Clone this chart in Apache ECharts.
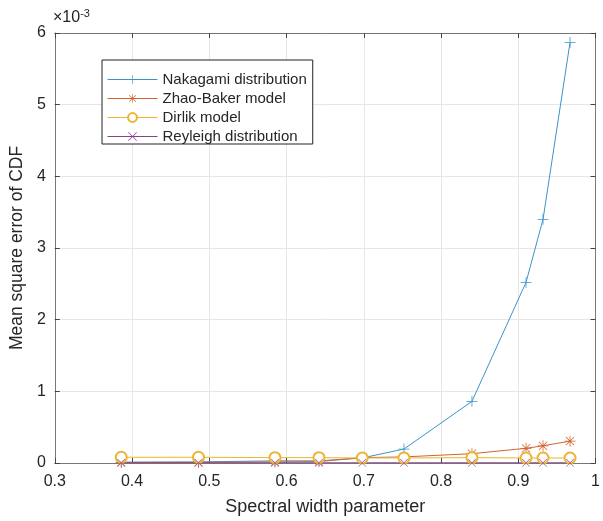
<!DOCTYPE html>
<html><head><meta charset="utf-8">
<script src="https://cdn.jsdelivr.net/npm/echarts@6/dist/echarts.min.js"></script>
<style>html,body{margin:0;padding:0;background:#fff}#c{width:603px;height:521px}</style>
</head><body><div id="c"></div>
<script>
// x values: spectral width parameter
const spectralWidth = [0.386, 0.486, 0.585, 0.642, 0.698, 0.752, 0.840, 0.910, 0.932, 0.967];
// y values in units of 1e-3
const nakagami  = [0.010, 0.015, 0.030, 0.030, 0.070, 0.195, 0.860, 2.520, 3.400, 5.870];
const zhaoBaker = [0.010, 0.010, 0.015, 0.020, 0.075, 0.085, 0.130, 0.205, 0.240, 0.305];
const dirlik    = [0.080, 0.080, 0.075, 0.075, 0.070, 0.070, 0.075, 0.070, 0.070, 0.070];
const reyleigh  = [0.003, 0.003, 0.003, 0.003, 0.003, 0.003, 0.003, 0.003, 0.003, 0.003];
const seriesNames = ['Nakagami distribution', 'Zhao-Baker model', 'Dirlik model', 'Reyleigh distribution'];
const xTickLabels = ['0.3','0.4','0.5','0.6','0.7','0.8','0.9','1'];
const yTickLabels = ['0','1','2','3','4','5','6'];

const PLUS = 'path://M9.3,0h1.4v20h-1.4z M0,9.3h20v1.4h-20z';
const CROSS = 'path://M0,1L1,0L20,19L19,20Z M19,0L20,1L1,20L0,19Z';
const STAR = 'path://M9.3,0h1.4v20h-1.4z M0,9.3h20v1.4h-20z M2,3L3,2L18,17L17,18Z M17,2L18,3L3,18L2,17Z';

function pairs(ys){ return spectralWidth.map((x,i)=>[x, ys[i]]); }
const txt = '#262626';
const axisCol = '#777';
const font = 'Liberation Sans, Arial, sans-serif';

const chart = echarts.init(document.getElementById('c'), null, {renderer:'canvas'});
function mk(name, ys, color, symbol, size){
  return {
    name, type:'line', data: pairs(ys), symbol, symbolSize:size,
    lineStyle:{color, width:1}, itemStyle:{color, borderWidth:1},
    showAllSymbol:true, animation:false, z:3
  };
}
chart.setOption({
  animation:false,
  backgroundColor:'#fff',
  textStyle:{fontFamily:font, color:txt},
  grid:{left:53, right:3, top:33, bottom:58, containLabel:false},
  legend:{
    orient:'vertical', left:102, top:60, data:seriesNames,
    backgroundColor:'#fff', borderColor:'#222', borderWidth:1, borderRadius:0,
    padding:[12,6,0,5], itemGap:4, itemWidth:50, itemHeight:11,
    lineStyle:{width:1}, itemStyle:{borderWidth:1},
    textStyle:{fontSize:15, color:txt, fontFamily:font}
  },
  xAxis:[{
    type:'value', min:0.3, max:1, interval:0.1,
    name:'Spectral width parameter', nameLocation:'middle', nameGap:35,
    nameTextStyle:{fontSize:18, color:txt, fontFamily:font},
    axisLine:{onZero:false, lineStyle:{color:axisCol}},
    axisTick:{inside:true, length:5, lineStyle:{color:'#444'}},
    axisLabel:{fontSize:16, color:txt, margin:11, formatter:(v)=>{const i=Math.round((v-0.3)*10);return xTickLabels[i]!==undefined?xTickLabels[i]:'';}},
    splitLine:{show:true, lineStyle:{color:'#e6e6e6'}}
  },{
    type:'value', position:'top', min:0.3, max:1, interval:0.1,
    axisLine:{show:true, onZero:false, lineStyle:{color:axisCol}},
    axisTick:{inside:true, length:5, lineStyle:{color:'#444'}},
    axisLabel:{show:false}, splitLine:{show:false}
  }],
  yAxis:[{
    type:'value', min:0, max:6, interval:1,
    name:'Mean square error of CDF', nameLocation:'middle', nameGap:25,
    nameTextStyle:{fontSize:17.5, color:txt, fontFamily:font},
    axisLine:{show:true, onZero:false, lineStyle:{color:axisCol}},
    axisTick:{show:true, inside:true, length:5, lineStyle:{color:'#444'}},
    axisLabel:{fontSize:16, color:txt, margin:9, formatter:(v)=>yTickLabels[Math.round(v)]},
    splitLine:{show:true, lineStyle:{color:'#e6e6e6'}}
  },{
    type:'value', position:'right', min:0, max:6, interval:1,
    axisLine:{show:true, onZero:false, lineStyle:{color:axisCol}},
    axisTick:{show:true, inside:true, length:5, lineStyle:{color:'#444'}},
    axisLabel:{show:false}, splitLine:{show:false}
  }],
  graphic:[{
    type:'text', left:53, top:8,
    style:{
      text:'{a|×10}{b|-3}',
      rich:{a:{fontSize:16, fontFamily:font, fill:txt}, b:{fontSize:11, fontFamily:font, fill:txt, verticalAlign:'top', padding:[0,0,9,0]}}
    }
  }],
  series:[
    mk(seriesNames[0], nakagami, '#3a94c9', PLUS, 11),
    mk(seriesNames[1], zhaoBaker, '#d4622e', STAR, 11),
    mk(seriesNames[2], dirlik, '#ebb532', 'emptyCircle', 11),
    mk(seriesNames[3], reyleigh, '#8a3c8f', CROSS, 8)
  ]
});
</script></body></html>
